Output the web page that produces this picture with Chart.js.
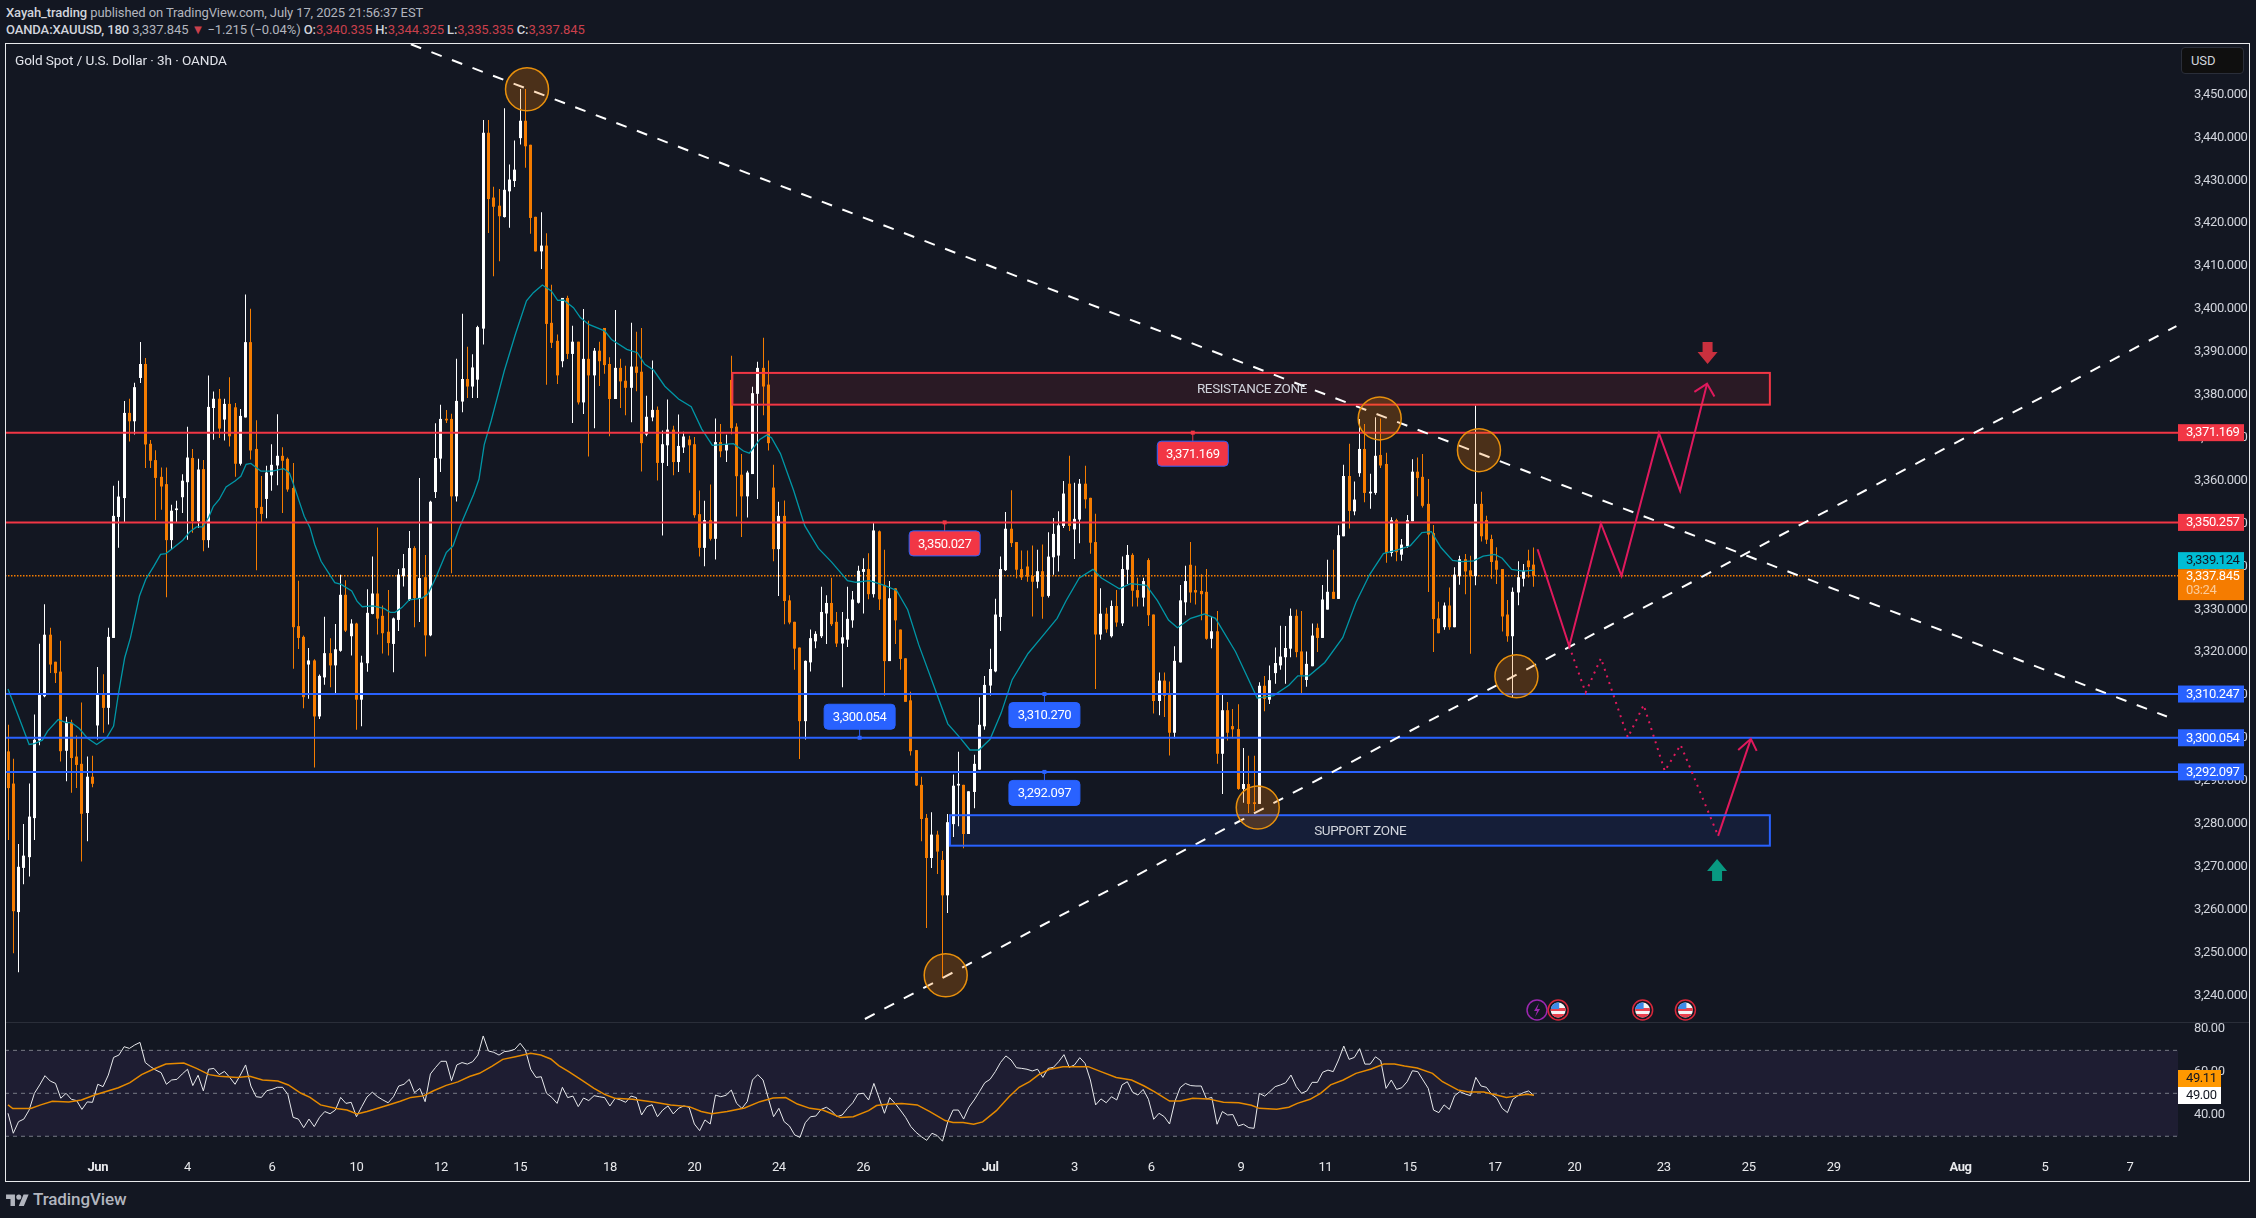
<!DOCTYPE html>
<html>
<head>
<meta charset="utf-8">
<title>Gold Spot / U.S. Dollar</title>
<script src="https://cdn.jsdelivr.net/npm/chart.js@4/dist/chart.umd.min.js"></script>
<style>
html, body { margin: 0; padding: 0; width: 2256px; height: 1218px; background: #131722; overflow: hidden; }
body { position: relative; font-family: Roboto, sans-serif; font-size: 13px; letter-spacing: -0.1px; color: #b2b5be; }
canvas { position: absolute; left: 5px; }
#priceChart { top: 43px; }
#rsiChart { top: 1022px; }
.txt { position: absolute; white-space: nowrap; line-height: 18px; }
.txt b { color: #d1d4dc; font-weight: 500; }
.red { color: #c9404c; }
#frame { position: absolute; left: 5px; top: 43px; width: 2243px; height: 1137px; border: 1.5px solid #e8e9ec; pointer-events: none; }
#sep { position: absolute; left: 6px; top: 1022px; width: 2243px; height: 1px; background: #2a2e39; }
#usd { position: absolute; left: 2181px; top: 47px; width: 63px; height: 27px; box-sizing: border-box; background: #0f0f0f; border: 1px solid #2a2e39; border-radius: 4px; color: #d1d4dc; line-height: 25px; padding-left: 9px; }
</style>
</head>
<body>
<div class="txt" style="left:6px;top:4px"><b>Xayah_trading</b> published on TradingView.com, July 17, 2025 21:56:37 EST</div>
<div class="txt" style="left:6px;top:21px"><b>OANDA:XAUUSD, 180</b> 3,337.845 <span class="red">▼</span> −1.215 (−0.04%) <b>O:</b><span class="red">3,340.335</span> <b>H:</b><span class="red">3,344.325</span> <b>L:</b><span class="red">3,335.335</span> <b>C:</b><span class="red">3,337.845</span></div>
<canvas id="priceChart" width="2245" height="979"></canvas>
<canvas id="rsiChart" width="2245" height="159"></canvas>
<div id="sep"></div>
<div id="frame"></div>
<div class="txt" style="left:15px;top:51px;font-size:13.6px;color:#e1e3ea">Gold Spot / U.S. Dollar · 3h · OANDA</div>
<div id="usd">USD</div>
<svg style="position:absolute;left:6px;top:1192px" width="23" height="14" viewBox="0 0 36 22"><path fill="#b2b5be" d="M14 22H7V11H0V4h14v18zM28 22h-8l7.5-18h8L28 22z"/><circle fill="#b2b5be" cx="20" cy="8" r="4"/></svg>
<div class="txt" style="left:33px;top:1188px;font-size:17px;line-height:22px;color:#b2b5be;font-weight:500">TradingView</div>

<script>
// candles, 3h, one row = 10 bars
var candleOpen = [
    3296.8, 3289.3, 3259.5, 3269.8, 3272.3, 3281.4, 3299.5, 3309.8, 3324, 3317.7,
    3315.4, 3297.1, 3303.5, 3295.6, 3293.9, 3282.6, 3290.9, 3303, 3310, 3307.1,
    3323.4, 3351.6, 3356, 3375.7, 3373.9, 3384, 3387.1, 3368.5, 3364.7, 3360.8,
    3359.1, 3346.2, 3353.2, 3356.2, 3359.7, 3365.2, 3350.6, 3362.6, 3346.2, 3377,
    3379, 3374.3, 3377.8, 3377, 3364, 3374.8, 3392.2, 3367.3, 3353.8, 3355.8,
    3361.3, 3363.6, 3365.7, 3365, 3358.2, 3326, 3323.5, 3317.2, 3318, 3305.1,
    3314.2, 3319.7, 3317, 3320.4, 3333.3, 3323.8, 3326.6, 3309, 3317.5, 3329,
    3333.6, 3328.4, 3324.7, 3322, 3327.6, 3337.8, 3332.3, 3344.2, 3332.7, 3337.4,
    3324, 3357.4, 3365.2, 3374.3, 3374.3, 3356.4, 3378.5, 3383.6, 3382, 3383.6,
    3395.5, 3441, 3425.9, 3424, 3421.5, 3427.5, 3429.9, 3439.9, 3443.8, 3438.2,
    3421.4, 3413.5, 3414.7, 3396.7, 3392.5, 3387.9, 3402.5, 3389.6, 3392.3, 3378.3,
    3388.3, 3384.6, 3390.2, 3395.5, 3387.1, 3379.1, 3386.2, 3383.2, 3381.7, 3386.5,
    3385.3, 3370.8, 3374.8, 3376.4, 3364.2, 3368.3, 3371.8, 3364.4, 3367.8, 3369.5,
    3368.4, 3352.1, 3344.4, 3350.7, 3346.5, 3368.9, 3367.1, 3383.4, 3372.5, 3361.3,
    3356.4, 3361.6, 3380.3, 3386.2, 3382.3, 3358.3, 3344.1, 3351.7, 3332, 3327,
    3321, 3304, 3317.7, 3322.6, 3323.8, 3329.1, 3331.4, 3327, 3322.1, 3323,
    3327.5, 3331.6, 3338.8, 3339.3, 3333.6, 3348.1, 3335.6, 3318, 3334.8, 3325.2,
    3318.5, 3308.7, 3297.1, 3289, 3281.3, 3272.1, 3277.4, 3271.5, 3263.4, 3280,
    3289, 3289, 3277.7, 3287.5, 3292.7, 3302.8, 3312.3, 3315.6, 3328.3, 3339.2,
    3348.7, 3345.6, 3339.3, 3339.9, 3337.7, 3336.5, 3338.8, 3333.2, 3342.2, 3342.6,
    3349.5, 3359.2, 3348.7, 3351, 3359.2, 3355.9, 3345.6, 3324.2, 3328.9, 3323.8,
    3330.7, 3326.8, 3339.3, 3342.6, 3334.4, 3332.8, 3341.4, 3328.7, 3308.7, 3313.3,
    3310.1, 3301.3, 3317.7, 3331.7, 3340.3, 3334.4, 3334.2, 3334, 3323.2, 3324.8,
    3296.4, 3306.4, 3302.7, 3302, 3288.2, 3289.2, 3284.9, 3284.7, 3312.1, 3309,
    3315.2, 3317, 3318.9, 3320.9, 3328.4, 3320.1, 3313.6, 3316.8, 3325.6, 3323.4,
    3330, 3334, 3332.5, 3347.1, 3361, 3352.9, 3361.8, 3367.3, 3357.1, 3357.2,
    3365.9, 3363.8, 3343.2, 3350.7, 3342.8, 3344.8, 3350.6, 3362, 3360.8, 3354.5,
    3347.7, 3327.8, 3325.9, 3330.8, 3325.9, 3337.8, 3341.6, 3339, 3337.8, 3354.5,
    3350.7, 3346.3, 3341.3, 3339.3, 3328.7, 3323.8, 3334, 3337.2, 3341.3, 3340.335,
];
var candleHigh = [
    3303, 3295.1, 3275.2, 3279.9, 3289.3, 3305.4, 3321.9, 3331.1, 3325.6, 3317.7,
    3322.6, 3304.9, 3304.2, 3300.5, 3308.2, 3295.6, 3295.8, 3316.5, 3314.8, 3325.6,
    3358.7, 3359.9, 3378.5, 3379, 3382.7, 3392.2, 3388.5, 3369.4, 3367, 3363,
    3363, 3354.3, 3355.2, 3361.4, 3372.5, 3367.3, 3365, 3364.7, 3384.4, 3380.7,
    3381.3, 3379, 3384, 3378, 3376.6, 3403.3, 3400, 3374, 3361, 3363.4,
    3368.4, 3375.4, 3367.7, 3365.3, 3364, 3336.6, 3323.8, 3320.9, 3318.3, 3314.7,
    3328.2, 3323.2, 3326.5, 3338, 3336.7, 3327.6, 3326.8, 3319.1, 3334.6, 3342.2,
    3349, 3330.8, 3334.4, 3328, 3339.3, 3342.8, 3348.2, 3344.6, 3360.5, 3342.6,
    3355.2, 3373.3, 3377.6, 3376.4, 3375.5, 3388.3, 3398.8, 3391.1, 3389.4, 3396,
    3444, 3444, 3428.4, 3427.9, 3446.7, 3433.6, 3439.2, 3451.2, 3451.2, 3438.2,
    3421.4, 3422.5, 3417.6, 3405.6, 3394, 3402.5, 3403, 3396, 3392.3, 3399.9,
    3397.2, 3390.8, 3392.3, 3395.5, 3388.7, 3399.7, 3388.3, 3386.7, 3396.7, 3394.6,
    3395.5, 3379.7, 3387.9, 3377.2, 3371.6, 3378.8, 3372.7, 3375.3, 3371.3, 3370.4,
    3370.1, 3357.6, 3355.2, 3359, 3374.4, 3373.1, 3370.6, 3389, 3373.3, 3366.1,
    3362.2, 3381.8, 3387.6, 3393.2, 3387.9, 3363.6, 3355, 3355.3, 3333.2, 3327,
    3321, 3318, 3325.2, 3324.8, 3335.2, 3333.2, 3337.3, 3329.3, 3329.3, 3335.2,
    3334.2, 3340.1, 3341.8, 3343, 3350.2, 3348.3, 3343.8, 3336.5, 3334.8, 3325.2,
    3318.5, 3310.7, 3297.1, 3290.9, 3282.2, 3282.6, 3278.3, 3273.6, 3282.2, 3291.4,
    3296.7, 3289, 3287.5, 3296, 3309.4, 3314.4, 3320.7, 3332.4, 3342.2, 3352.6,
    3357.7, 3345.6, 3343.6, 3343.6, 3344.8, 3343.8, 3345, 3347.9, 3351.2, 3352.8,
    3359.8, 3365.7, 3359.4, 3360.3, 3363.4, 3355.9, 3352.2, 3334.8, 3330.3, 3332,
    3334.4, 3342.2, 3344.9, 3343, 3337.3, 3337.3, 3341.8, 3328.7, 3315.2, 3315.2,
    3313.1, 3321.3, 3335.6, 3340.1, 3345.6, 3340.1, 3338.1, 3339.3, 3328.3, 3329.5,
    3310.1, 3308.3, 3306.7, 3307.8, 3297.6, 3295.8, 3295.8, 3312.9, 3314.4, 3316.8,
    3321, 3326.1, 3326, 3330.1, 3329.9, 3329.5, 3320.1, 3326.6, 3326.6, 3335.6,
    3341.5, 3343.8, 3349.5, 3363.6, 3368.5, 3359.7, 3374.3, 3373.1, 3361.5, 3374.7,
    3374.4, 3366.4, 3351.4, 3351, 3346.3, 3351.9, 3364.9, 3365.3, 3366.1, 3360.3,
    3349.6, 3331.7, 3331.5, 3335, 3339.7, 3342.4, 3342.8, 3342.4, 3377.4, 3357.3,
    3351.7, 3347.3, 3344.4, 3339.3, 3332.1, 3335, 3341.1, 3340.5, 3343.8, 3344.325,
];
var candleLow = [
    3276.3, 3249.9, 3245.5, 3266, 3267.8, 3276.3, 3298.4, 3309.6, 3315.2, 3312.9,
    3294.6, 3290, 3287.3, 3288.4, 3271.3, 3276, 3288.6, 3299.7, 3301.3, 3303.2,
    3323.4, 3344.4, 3350.2, 3369.2, 3370.8, 3382.8, 3363, 3363, 3350.9, 3353.3,
    3332.9, 3344, 3350.4, 3352.5, 3346.3, 3347.9, 3349, 3343.6, 3344.4, 3369.6,
    3370, 3369.4, 3368, 3361, 3363.6, 3374.8, 3365, 3339.2, 3350.4, 3351.3,
    3357.7, 3359, 3352.5, 3357.5, 3316.2, 3320.8, 3307, 3309.2, 3293.2, 3304.5,
    3312.5, 3311.9, 3310.5, 3320.2, 3324.8, 3319.3, 3302, 3302.8, 3315.5, 3328.9,
    3324.2, 3319.8, 3319.3, 3315.4, 3325, 3335.4, 3332, 3325.9, 3327.1, 3319.1,
    3323.8, 3356, 3362.1, 3373.5, 3338.5, 3355.2, 3376, 3379.3, 3379.3, 3379.3,
    3391.8, 3417.8, 3407.7, 3411.2, 3421.4, 3419, 3428.5, 3438.4, 3433, 3417.6,
    3413.5, 3409.4, 3382.4, 3391, 3382.6, 3386.5, 3388.4, 3373.5, 3377.8, 3375.6,
    3365.7, 3372.3, 3382.1, 3385, 3370.4, 3379.1, 3377, 3375.3, 3373.7, 3380.9,
    3362.2, 3370.4, 3373.9, 3360.1, 3347.3, 3363.5, 3361.3, 3362.1, 3366.5, 3361.9,
    3351.4, 3342.4, 3340.1, 3346.1, 3341.7, 3365.5, 3364.4, 3370.9, 3351.7, 3346.9,
    3351.5, 3361.6, 3355.8, 3375.3, 3367.1, 3341.3, 3333.2, 3326.6, 3326.6, 3316,
    3295.2, 3299.7, 3315.6, 3321, 3323.4, 3322, 3326.2, 3321.3, 3311.9, 3321.3,
    3325.8, 3331.4, 3329.1, 3332.4, 3332.8, 3329.9, 3309.9, 3318, 3322, 3316,
    3308.5, 3296, 3288.9, 3276, 3255.8, 3269.8, 3268.4, 3244.1, 3259.3, 3277,
    3279.5, 3274.4, 3277.7, 3283.7, 3292.7, 3302, 3310, 3315.4, 3325, 3339,
    3344.6, 3337.3, 3336.9, 3336.5, 3328.4, 3335, 3327.9, 3332.8, 3338.1, 3338.9,
    3349, 3348.3, 3341.8, 3345.5, 3353.6, 3343, 3311.5, 3323, 3324.6, 3323.5,
    3326, 3326.2, 3336, 3330.7, 3330.7, 3330.7, 3326.2, 3305.8, 3305.4, 3305,
    3296, 3300, 3317.7, 3328.7, 3331.6, 3331.2, 3327.5, 3323, 3321, 3294.1,
    3287, 3299.5, 3300, 3288, 3285, 3282.6, 3283, 3284.7, 3306.3, 3308,
    3312.7, 3316, 3312.7, 3318.9, 3318.9, 3310.1, 3312, 3316.8, 3320.1, 3323.4,
    3330, 3332.5, 3332.5, 3347.1, 3348.9, 3352, 3361, 3355, 3353.5, 3356.8,
    3363, 3340.9, 3342.4, 3341.3, 3341.4, 3344.4, 3350.6, 3356.4, 3353.8, 3334.1,
    3320.1, 3324.5, 3325.3, 3325.3, 3325.9, 3335.8, 3333.6, 3319.7, 3335.7, 3345.9,
    3345.3, 3337.2, 3336, 3324.9, 3322.5, 3309.4, 3331, 3335.4, 3337.5, 3335.335,
];
var candleClose = [
    3288.4, 3259.7, 3269.9, 3272.5, 3281.6, 3299.5, 3310.2, 3324, 3317.2, 3315.2,
    3297, 3303.7, 3295.4, 3293.8, 3282.4, 3290.9, 3289.4, 3310, 3307.1, 3323.5,
    3351.7, 3356.2, 3375.7, 3373.9, 3381.7, 3387.1, 3368.5, 3364.7, 3360.7, 3358.7,
    3346.2, 3352.9, 3353.2, 3359.9, 3365.3, 3350.6, 3362.5, 3346.2, 3377.1, 3379,
    3372.2, 3377.8, 3370.4, 3364, 3375, 3392.2, 3367.1, 3353.7, 3352.3, 3361.8,
    3363.6, 3365.7, 3364.7, 3358, 3325.9, 3323.4, 3309.6, 3318, 3305.1, 3314.4,
    3319.7, 3317, 3320.6, 3333.3, 3325.1, 3326.6, 3309, 3317.5, 3329.1, 3333.6,
    3327.9, 3324.5, 3322.2, 3327.8, 3338, 3339.5, 3344.2, 3332.7, 3337.2, 3324,
    3355, 3365.2, 3374.3, 3374.1, 3356.4, 3378.5, 3383.6, 3382, 3386.3, 3395.7,
    3441, 3425.7, 3423.9, 3421.7, 3427.7, 3430.1, 3432.4, 3443.8, 3438, 3421.3,
    3413.5, 3414.7, 3396.6, 3392.2, 3384.6, 3402.5, 3389.6, 3392.3, 3378.3, 3388.3,
    3384.6, 3390.2, 3387.9, 3387, 3379.1, 3386.2, 3383.2, 3381.7, 3386.5, 3385.2,
    3368.8, 3374.8, 3376.4, 3364.2, 3368.4, 3371.8, 3364.4, 3368, 3370.2, 3368.3,
    3352, 3344.4, 3350.7, 3346.5, 3368.9, 3366.9, 3368.4, 3372.3, 3361.1, 3356.4,
    3361.8, 3380.3, 3386.2, 3382, 3368.8, 3344.1, 3351.7, 3332, 3327, 3320.9,
    3304, 3317.9, 3323.2, 3324.2, 3329.3, 3331.4, 3326.6, 3322.1, 3323.4, 3327.7,
    3332.2, 3338.9, 3339.3, 3333.6, 3348.3, 3332.4, 3318, 3332.5, 3327.5, 3318.5,
    3308.5, 3297, 3289, 3281.2, 3272.1, 3277.4, 3273.6, 3263.4, 3280.3, 3288.8,
    3289, 3277.7, 3287.5, 3293.9, 3303, 3312.3, 3316, 3328.7, 3339.3, 3348.7,
    3345.5, 3339.3, 3337.5, 3337.7, 3336.5, 3338.8, 3333, 3342.2, 3347.5, 3349.5,
    3356.9, 3349.5, 3351, 3359.2, 3355.7, 3345.6, 3324.2, 3328.9, 3325.4, 3330.7,
    3327, 3339.3, 3342.6, 3334.4, 3332.8, 3336.5, 3328.7, 3308.7, 3313.3, 3309.9,
    3301.3, 3317.9, 3332, 3336.5, 3334, 3334, 3333.6, 3323.2, 3324.8, 3296.4,
    3306.4, 3301.3, 3302.1, 3288.2, 3289.2, 3284.7, 3284.7, 3312.1, 3309.2, 3313.4,
    3317.4, 3318.9, 3320.9, 3328.4, 3320.1, 3314.8, 3317.2, 3323.8, 3323.4, 3332.2,
    3334, 3332.5, 3347.2, 3361, 3353, 3355.5, 3367.3, 3357.2, 3357.3, 3365.7,
    3363.6, 3343.2, 3350.7, 3343.4, 3345, 3350.7, 3362, 3360.7, 3354.2, 3347.5,
    3327.8, 3324.5, 3330.8, 3325.9, 3338, 3341.6, 3338.9, 3337.8, 3354.5, 3347.1,
    3346.3, 3341.1, 3339.3, 3328.4, 3323.8, 3334, 3337.4, 3338.9, 3339.9, 3337.845,
];

// teal moving average, bar number and price
var emaBar = [0, 2, 4, 5, 6.5, 7.5, 9.5, 11, 12, 13.5, 15, 16.8, 18.7, 20, 20.9, 22.1, 23.2, 24.9, 26.1, 27.6, 28.9, 29.9, 31.4, 33.1, 34.4, 35.7, 36.9, 38, 38.9, 40, 41.3, 43, 44.1, 45.1, 46, 47.9, 50, 52.2, 53.3, 54.3, 56.1, 57.2, 58.1, 59.3, 61.9, 63.1, 65.1, 66.1, 67.1, 69.1, 71.2, 72.4, 73.3, 74.6, 76, 78.4, 79.5, 80.9, 83, 84.3, 85.5, 88.2, 89.2, 90.2, 91.5, 92.5, 94, 96.1, 98.2, 99.5, 101.2, 102.9, 104.1, 105.2, 107.1, 108.4, 110, 113, 114.3, 117.2, 119.2, 120.6, 122.3, 124.4, 127, 129.4, 131.4, 133.4, 137.4, 139.3, 140.4, 142.4, 143.7, 144.6, 146.3, 148.8, 150.9, 153.5, 156, 159, 160.6, 163.2, 166.1, 168.3, 170.4, 172.5, 175.9, 178, 180.3, 182.2, 183.9, 186, 188.1, 190.2, 193.2, 195.7, 198.7, 200.4, 202.9, 205.5, 207.1, 210.5, 212.6, 215.6, 217.7, 219.8, 221.5, 224, 226.6, 228.7, 232.5, 236.6, 239.7, 242.6, 244.3, 246.4, 249.4, 252.8, 255.3, 257.9, 260.5, 263, 265.6, 267.8, 269.6, 271.4, 273.6, 275.4, 277.6, 279.4, 281.6, 283, 284.8, 287, 289];
var emaPrice = [3311.4, 3305, 3298.5, 3298.7, 3299.5, 3301.6, 3304.3, 3303.6, 3303.6, 3302.2, 3300, 3298.5, 3300.1, 3302.8, 3310.2, 3318.7, 3323.4, 3333.1, 3337, 3340, 3342.8, 3343, 3344.4, 3346.1, 3348, 3349.2, 3349.2, 3351.4, 3354, 3355.6, 3358.5, 3359.9, 3361, 3363.8, 3364, 3362.2, 3362.2, 3362.8, 3361.8, 3358.3, 3351.7, 3349, 3345.1, 3341.2, 3336.2, 3335.8, 3334.3, 3331.9, 3330.6, 3330.8, 3330.2, 3329.3, 3329.3, 3330.4, 3332.2, 3332.6, 3333.5, 3337, 3343.2, 3344.8, 3349, 3356.8, 3360.3, 3368.4, 3373.9, 3378.6, 3385.6, 3394.1, 3401.9, 3403.8, 3405.6, 3404.2, 3402, 3402.1, 3400.3, 3398, 3396.4, 3394.9, 3392.9, 3390.6, 3389.8, 3387.1, 3385.7, 3382, 3379, 3377.2, 3372, 3368.2, 3368.6, 3366.9, 3366.4, 3369.6, 3370.6, 3370, 3366.3, 3357.7, 3349.5, 3344.2, 3341, 3336.7, 3336.3, 3336.7, 3335.5, 3334.4, 3329.9, 3321.7, 3310.3, 3303.3, 3300.1, 3297.2, 3297.2, 3299.7, 3305.8, 3313.6, 3319.7, 3323.4, 3327.9, 3332, 3337.3, 3339.3, 3337.3, 3334.8, 3336, 3335.6, 3332, 3327.5, 3325.7, 3327.9, 3328.9, 3327.9, 3320.1, 3309.3, 3309.9, 3312.3, 3314.5, 3314.5, 3317.6, 3323.4, 3331.6, 3338.1, 3343, 3343.8, 3344.8, 3347.9, 3348.1, 3344.4, 3341.4, 3341.1, 3341.3, 3342.4, 3342.8, 3341.9, 3339.3, 3338.9, 3339.124];

// RSI, one value per bar
var rsiValues = [
    40.7, 31.4, 36.8, 38, 42.2, 50, 53.9, 58.2, 55.7, 54.6,
    47.7, 50, 47.2, 46.6, 42.5, 46, 45.8, 54.2, 53.1, 58.5,
    66.7, 67.8, 71.7, 70.9, 72.5, 73.7, 64.3, 62.4, 60.8, 59.6,
    54.2, 56.2, 56.5, 59, 61.2, 53.6, 58.4, 51.1, 61.2, 61.6,
    58.7, 60.2, 57.4, 54.2, 58.5, 63.2, 53.4, 48.4, 48.1, 51.2,
    51.8, 52.8, 52.8, 49.5, 38.8, 38, 34, 38, 34.5, 38.8,
    41.5, 40.5, 42.2, 48.1, 45.3, 45.8, 39.1, 43.8, 48.3, 50.5,
    48.4, 46.9, 45.6, 48.4, 53.4, 54.2, 56.5, 50.3, 52.3, 46.1,
    59, 62.1, 64.9, 64.9, 55.9, 63.2, 64.3, 63.6, 64.7, 67.8,
    76.7, 69.7, 69.1, 67.8, 69.4, 69.7, 70.5, 73.3, 70.1, 61.2,
    57.4, 57.7, 50, 48.1, 45.3, 52.8, 48, 48.7, 43.8, 47.8,
    46.6, 48.9, 48.4, 48, 44.1, 47.7, 46.9, 45.8, 48.7, 48,
    39.9, 43.8, 44.7, 39.1, 42.2, 44.1, 40.4, 43, 44.1, 43.5,
    35.7, 32.6, 37.6, 35.7, 49.2, 48.4, 49.1, 51.5, 45.3, 43,
    46.1, 56.2, 58.7, 56.2, 47.7, 39.1, 43, 36.8, 34.8, 30.6,
    29.5, 36.3, 39.1, 39.4, 42.5, 43.5, 41.8, 39.1, 39.9, 43,
    45.6, 49.7, 50, 46.9, 54.6, 47.7, 40.7, 48, 45.3, 42.2,
    38.8, 34.5, 31.8, 29.8, 28.1, 31.4, 30.3, 27.7, 36.8, 42.2,
    42.2, 38, 43.5, 46.9, 50.8, 54.9, 56.5, 60.1, 64.4, 67.4,
    65.5, 61.9, 61.6, 61.2, 60.4, 61.2, 57.4, 61.6, 62.1, 64.7,
    68, 62.1, 63.2, 66.6, 63.9, 56.2, 44.6, 47.4, 45.6, 48.4,
    46.9, 53.9, 55.4, 50.5, 49.2, 51.8, 47.2, 37.9, 40.7, 39.1,
    35.7, 46.1, 52.6, 54.6, 53.6, 53.4, 53.4, 47.4, 48.1, 35.6,
    41.5, 39.9, 40.1, 34.8, 35.6, 34, 33.7, 50, 48.7, 50.8,
    53.1, 53.9, 54.9, 58.5, 53.1, 50, 51.1, 55.1, 55.1, 59.8,
    60.8, 60.1, 65.5, 72, 65.8, 66.7, 70.8, 63.6, 63.6, 67,
    65.2, 52.3, 56.2, 51.8, 52.6, 55.4, 60.5, 60.1, 56.2, 52.3,
    42.2, 41, 44.6, 42.5, 48.9, 50.8, 49.7, 48.9, 57.4, 53.4,
    52.8, 49.5, 47.7, 43, 41, 47.2, 48.9, 50.3, 51.1, 49,
];
var rsiMaBar = [0, 0.9, 4.3, 6.2, 8.4, 11.5, 13.9, 16.4, 20.9, 23.1, 25.3, 27.5, 29.9, 33.3, 35.7, 38.1, 40, 43.4, 45.8, 48.2, 51.1, 53.1, 55.5, 57.2, 59.2, 62.2, 64.2, 66.1, 68, 71.9, 74.3, 76.3, 78.7, 80.6, 83, 85.2, 87.4, 89.3, 91.7, 93.7, 96.1, 99, 100.9, 102.8, 104.3, 106.2, 108.6, 111, 113, 114.9, 118.3, 122.2, 125.5, 129, 131.3, 133.3, 136.2, 139.5, 142.4, 144.9, 147.3, 149.5, 151.9, 154.3, 155.8, 157.7, 160.1, 163, 164.5, 166.9, 169.3, 172.2, 174.6, 177.5, 179, 180.9, 182.9, 184.6, 187.2, 189.6, 191.5, 193.5, 195.4, 197.3, 199.8, 204.6, 207, 209.9, 212.8, 215.2, 217.1, 220, 222, 224.4, 227.3, 230.2, 233.1, 235.5, 237, 240.3, 242.6, 244.2, 246.6, 248.6, 250.5, 252.9, 255.3, 258.2, 260.6, 262.6, 264.5, 266.9, 269.8, 271.7, 274.6, 276.6, 279.5, 281.9, 283.8, 285.7, 287.7, 289];
var rsiMaValues = [44.6, 42.9, 42.9, 44.6, 46.3, 46, 46.9, 49.2, 52.6, 55, 58.7, 61.2, 63.6, 64.1, 61.6, 58.7, 57.9, 57.4, 57.9, 56.2, 55.7, 53.9, 50, 48.1, 44.6, 42.9, 42.2, 40.4, 41.5, 44.4, 46.3, 48.1, 48.8, 51.2, 53.7, 55.3, 57.8, 59.3, 62.7, 65.8, 67, 68.6, 67.8, 66, 62.9, 60.1, 56.2, 52.3, 49.5, 47.7, 47.2, 46, 44.6, 43.8, 41.5, 40.5, 41.5, 43.2, 46.1, 47.8, 48, 45, 43, 42.2, 40.7, 38.7, 39.1, 41.9, 44.3, 45, 45.3, 44.6, 41.5, 37.3, 36.4, 36.4, 35.6, 36.7, 41.9, 48.4, 52.8, 55.4, 59, 61.2, 62.4, 62.4, 60.1, 57.4, 56.2, 53.4, 50.8, 46.4, 46.4, 47.7, 47.4, 45.8, 45.6, 44.4, 43, 42.6, 43.5, 45.3, 47.2, 50, 53.9, 56.2, 59.3, 61.3, 63.6, 63.6, 62.7, 61.8, 59.3, 55.4, 51.6, 50.6, 50.6, 49.2, 48.1, 48.8, 49.5, 49.11];

// axes
var priceTicks = [3240, 3250, 3260, 3270, 3280, 3290, 3300, 3310, 3320, 3330, 3340, 3350, 3360, 3370, 3380, 3390, 3400, 3410, 3420, 3430, 3440, 3450];
var rsiTicks = [40, 60, 80];
var timeTickBars = [17, 34, 50, 66, 82, 97, 114, 130, 146, 162, 186, 202, 216.5, 233.5, 249.5, 265.5, 281.6, 296.7, 313.6, 329.7, 345.8, 369.8, 385.8, 401.9];
var timeTickLabels = ["Jun", "4", "6", "10", "12", "15", "18", "20", "24", "26", "Jul", "3", "6", "9", "11", "15", "17", "20", "23", "25", "29", "Aug", "5", "7"];

// key levels
var resistanceLevels = [3371.169, 3350.257];
var supportLevels = [3310.247, 3300.054, 3292.097];
var lastPrice = 3337.845;
var lastEma = 3339.124;

// trend lines
var downTrendBars = [76.3, 408.9];
var downTrendPrices = [3461.7, 3305];
var upTrendBars = [162.3, 410.7];
var upTrendPrices = [3234.5, 3396];

// forecast paths
var pathUpBars = [289.7, 295.7, 301.7, 305.6, 312.7, 316.7, 321.8];
var pathUpPrices = [3344, 3321.4, 3350, 3337.8, 3371, 3357.6, 3382.6];
var pathUpHeadBars = [319.4, 321.8, 323.2];
var pathUpHeadPrices = [3380.7, 3382.6, 3379.6];
var pathDotBars = [295.7, 298.8, 301.7, 306.8, 309.8, 313.8, 316.8, 323.9];
var pathDotPrices = [3321.4, 3310.6, 3318.6, 3300.1, 3307.7, 3292.3, 3298.4, 3277.2];
var pathEndBars = [323.9, 330.1];
var pathEndPrices = [3277.2, 3299.8];
var pathEndHeadBars = [327.7, 330.1, 331.2];
var pathEndHeadPrices = [3297.2, 3299.8, 3297];

// circles around the swing points
var circleBars = [98.3, 259.8, 278.6, 285.7, 236.7, 177.6];
var circlePrices = [3451.2, 3374.5, 3367.1, 3314.4, 3283.8, 3244.7];

// events row at the bottom of the price pane
var eventBars = [293.6, 309.6, 317.7];
var flashBar = 289.6;
var eventRowPrice = 3236.6;

var xMin = -0.57, xMax = 411;
var priceMin = 3233.8, priceMax = 3462;
var rsiMin = 23.6, rsiMax = 83.2;

var FONT = "Roboto, sans-serif";
var LABEL = "13px " + FONT;
var RED = "#f23645", BLUE = "#2962ff", ORANGE = "#f57c00", PINK = "#e0195d";
Chart.defaults.font.family = FONT;
Chart.defaults.font.size = 13;
Chart.defaults.color = "#d1d4dc";

var bars = candleOpen.map(function (v, i) { return i; });

function lineSet(xs, ys, color, width, dash, order) {
    return {
        type: "line",
        data: xs.map(function (x, i) { return { x: x, y: ys[i] }; }),
        borderColor: color,
        borderWidth: width,
        borderDash: dash || [],
        pointRadius: 0,
        tension: 0,
        order: order,
    };
}
function levelSet(price, color, width, dash, order) {
    return lineSet([xMin, xMax], [price, price], color, width, dash, order);
}
function money(v, d) {
    return v.toLocaleString("en-US", { minimumFractionDigits: d, maximumFractionDigits: d });
}
function rrect(c, x, y, w, h, r) {
    c.beginPath();
    c.roundRect(x, y, w, h, r);
}
function text(c, str, x, y, color, font, align) {
    c.fillStyle = color;
    c.font = font;
    c.textAlign = align || "left";
    c.textBaseline = "middle";
    c.fillText(str, x, y);
}
// no chart padding, the panes fill their canvas edge to edge
function noPadding(s) {
    s.paddingTop = 0;
    s.paddingBottom = 0;
    s.paddingLeft = 0;
    s.paddingRight = 0;
}

// zones, circles, callouts, price tags
var zones = [
    { a: 137.2, b: 333.7, top: 3385.1, bottom: 3377.7, stroke: RED, fill: "rgba(242,54,69,0.1)", label: "RESISTANCE ZONE", at: 235.6 },
    { a: 178.4, b: 333.7, top: 3282, bottom: 3274.9, stroke: BLUE, fill: "rgba(41,98,255,0.1)", label: "SUPPORT ZONE", at: 256.1 },
];
var callouts = [
    { label: "3,371.169", bar: 224.4, price: 3371.169, color: RED, down: true },
    { label: "3,350.027", bar: 177.4, price: 3350.257, color: RED, down: true },
    { label: "3,300.054", bar: 161.3, price: 3300.054, color: BLUE, down: false },
    { label: "3,310.270", bar: 196.3, price: 3310.247, color: BLUE, down: true },
    { label: "3,292.097", bar: 196.3, price: 3292.097, color: BLUE, down: true },
];

function drawFlag(c, x, y) {
    c.save();
    c.beginPath();
    c.arc(x, y, 10, 0, Math.PI * 2);
    c.fillStyle = "#131722";
    c.fill();
    c.lineWidth = 1.5;
    c.strokeStyle = "#d8273a";
    c.stroke();
    c.beginPath();
    c.arc(x, y, 7.5, 0, Math.PI * 2);
    c.clip();
    c.fillStyle = "#f5f5f5";
    c.fillRect(x - 8, y - 8, 16, 16);
    c.fillStyle = "#e8424f";
    c.fillRect(x - 8, y - 2, 16, 3);
    c.fillRect(x - 8, y + 4, 16, 4);
    c.fillStyle = "#3d8be8";
    c.fillRect(x - 8, y - 8, 9, 7);
    c.restore();
}

var drawingsPlugin = {
    id: "drawings",
    beforeDatasetsDraw: function (chart) {
        var c = chart.ctx, sx = chart.scales.x, sy = chart.scales.y;
        zones.forEach(function (z) {
            c.fillStyle = z.fill;
            c.fillRect(sx.getPixelForValue(z.a), sy.getPixelForValue(z.top), sx.getPixelForValue(z.b) - sx.getPixelForValue(z.a), sy.getPixelForValue(z.bottom) - sy.getPixelForValue(z.top));
        });
    },
    afterDatasetsDraw: function (chart) {
        var c = chart.ctx, sx = chart.scales.x, sy = chart.scales.y;
        zones.forEach(function (z) {
            var x = sx.getPixelForValue(z.a), y = sy.getPixelForValue(z.top);
            var w = sx.getPixelForValue(z.b) - x, h = sy.getPixelForValue(z.bottom) - y;
            c.strokeStyle = z.stroke;
            c.lineWidth = 2;
            c.strokeRect(x, y, w, h);
            text(c, z.label, sx.getPixelForValue(z.at), y + h / 2 + 1, "#d1d4dc", "13.5px " + FONT, "center");
        });

        circleBars.forEach(function (b, i) {
            c.beginPath();
            c.arc(sx.getPixelForValue(b), sy.getPixelForValue(circlePrices[i]), 21.5, 0, Math.PI * 2);
            c.fillStyle = "rgba(245,124,0,0.25)";
            c.fill();
            c.lineWidth = 1.5;
            c.strokeStyle = "#e8900c";
            c.stroke();
        });

        callouts.forEach(function (t) {
            var x = sx.getPixelForValue(t.bar), y = sy.getPixelForValue(t.price);
            var cy = t.down ? y + 21 : y - 21;
            c.strokeStyle = t.color;
            c.lineWidth = 1;
            c.beginPath();
            c.moveTo(x, y);
            c.lineTo(x, cy);
            c.stroke();
            c.fillStyle = t.color;
            c.fillRect(x - 2, y - 2, 4, 4);
            rrect(c, x - 35.5, cy - 12.5, 71, 25, 4);
            c.fillStyle = t.color;
            c.fill();
            c.strokeStyle = BLUE;
            c.stroke();
            text(c, t.label, x, cy + 1, "#ffffff", LABEL, "center");
        });

        // big arrows over the zones
        [[321.9, 3387.2, "#c9303e", -1], [323.7, 3271.8, "#089981", 1]].forEach(function (a) {
            var x = sx.getPixelForValue(a[0]), y = sy.getPixelForValue(a[1]), d = a[3];
            c.fillStyle = a[2];
            c.beginPath();
            c.moveTo(x, y);
            c.lineTo(x + 10, y + d * 12);
            c.lineTo(x + 5, y + d * 12);
            c.lineTo(x + 5, y + d * 22);
            c.lineTo(x - 5, y + d * 22);
            c.lineTo(x - 5, y + d * 12);
            c.lineTo(x - 10, y + d * 12);
            c.closePath();
            c.fill();
        });

        // economic events
        var fx = sx.getPixelForValue(flashBar), ey = sy.getPixelForValue(eventRowPrice);
        c.beginPath();
        c.arc(fx, ey, 10, 0, Math.PI * 2);
        c.lineWidth = 1.5;
        c.strokeStyle = "#9c27b0";
        c.stroke();
        c.fillStyle = "#9c27b0";
        c.beginPath();
        c.moveTo(fx + 2, ey - 7);
        c.lineTo(fx - 3, ey + 1);
        c.lineTo(fx, ey + 1);
        c.lineTo(fx - 2, ey + 7);
        c.lineTo(fx + 3, ey - 1);
        c.lineTo(fx, ey - 1);
        c.closePath();
        c.fill();
        eventBars.forEach(function (b) { drawFlag(c, sx.getPixelForValue(b), ey); });
    },
    afterDraw: function (chart) {
        var c = chart.ctx, sy = chart.scales.y, left = chart.chartArea.right;
        function tag(price, bg, color) {
            var y = sy.getPixelForValue(price);
            c.fillStyle = bg;
            c.fillRect(left, y - 8.5, 66, 17);
            text(c, money(price, 3), left + 8, y + 0.5, color, LABEL);
        }
        resistanceLevels.forEach(function (p) { tag(p, RED, "#ffffff"); });
        supportLevels.forEach(function (p) { tag(p, BLUE, "#ffffff"); });

        var top = sy.getPixelForValue(lastPrice) - 6.5;
        c.fillStyle = "#00bcd4";
        c.fillRect(left, top - 17, 66, 17);
        text(c, money(lastEma, 3), left + 8, top - 8, "#131722", LABEL);
        c.fillStyle = ORANGE;
        c.fillRect(left, top, 66, 31);
        text(c, money(lastPrice, 3), left + 8, top + 8, "#ffffff", LABEL);
        text(c, "03:24", left + 8, top + 22, "rgba(255,255,255,0.6)", LABEL);
    },
};

var rsiPlugin = {
    id: "rsiBand",
    beforeDatasetsDraw: function (chart) {
        var c = chart.ctx, a = chart.chartArea, sy = chart.scales.y;
        var top = sy.getPixelForValue(70), bottom = sy.getPixelForValue(30);
        c.fillStyle = "rgba(126,87,194,0.1)";
        c.fillRect(a.left, top, a.right - a.left, bottom - top);
    },
    afterDraw: function (chart) {
        var c = chart.ctx, left = chart.chartArea.right;
        c.fillStyle = "#ff9800";
        c.fillRect(left, 48, 43, 17);
        text(c, "49.11", left + 8, 57, "#131722", LABEL);
        c.fillStyle = "#ffffff";
        c.fillRect(left, 65, 43, 17);
        text(c, "49.00", left + 8, 74, "#131722", LABEL);
    },
};

// tighter labels, same width as the reference's axis text
var spacingPlugin = {
    id: "spacing",
    beforeDraw: function (chart) { chart.ctx.letterSpacing = "-0.4px"; },
};

var priceDatasets = [
    {
        label: "wick",
        data: bars.map(function (i) { return { x: i, y: [candleLow[i], candleHigh[i]] }; }),
        backgroundColor: bars.map(function (i) { return candleClose[i] >= candleOpen[i] ? "#ffffff" : ORANGE; }),
        barThickness: 1,
        grouped: false,
        order: 8,
    },
    {
        label: "body",
        data: bars.map(function (i) { return { x: i, y: [candleOpen[i], candleClose[i]] }; }),
        backgroundColor: bars.map(function (i) { return candleClose[i] >= candleOpen[i] ? "#ffffff" : ORANGE; }),
        barThickness: 3,
        minBarLength: 1,
        grouped: false,
        order: 7,
    },
    levelSet(lastPrice, ORANGE, 1.5, [1.5, 1.5], 9),
    lineSet(emaBar, emaPrice, "#0097a7", 1.3, null, 6),
];
resistanceLevels.forEach(function (p) { priceDatasets.push(levelSet(p, RED, 2, null, 5)); });
supportLevels.forEach(function (p) { priceDatasets.push(levelSet(p, BLUE, 2, null, 5)); });
priceDatasets.push(lineSet(downTrendBars, downTrendPrices, "#ffffff", 2, [11, 11], 4));
priceDatasets.push(lineSet(upTrendBars, upTrendPrices, "#ffffff", 2, [11, 11], 4));
priceDatasets.push(lineSet(pathUpBars, pathUpPrices, PINK, 2, null, 3));
priceDatasets.push(lineSet(pathUpHeadBars, pathUpHeadPrices, PINK, 2, null, 3));
priceDatasets.push(lineSet(pathDotBars, pathDotPrices, PINK, 2, [2, 5], 3));
priceDatasets.push(lineSet(pathEndBars, pathEndPrices, PINK, 2, null, 3));
priceDatasets.push(lineSet(pathEndHeadBars, pathEndHeadPrices, PINK, 2, null, 3));

var ctx = document.getElementById("priceChart").getContext("2d");

// snap candle bars to whole pixels so wicks stay 1px sharp
var plainRect = ctx.rect;
ctx.rect = function (x, y, w, h) {
    if (w > 5) return plainRect.call(ctx, x, y, w, h);
    var mid = Math.round(x + w / 2 - 0.5);
    if (w > 2) return plainRect.call(ctx, mid - 1, y, 3, h);
    return plainRect.call(ctx, mid, y, 1, h);
};

var priceChart = new Chart(ctx, {
    type: "bar",
    data: { datasets: priceDatasets },
    plugins: [spacingPlugin, drawingsPlugin],
    options: {
        responsive: false,
        animation: false,
        devicePixelRatio: 1,
        layout: { padding: 0 },
        plugins: { legend: { display: false }, tooltip: { enabled: false } },
        scales: {
            x: { type: "linear", display: false, offset: false, min: xMin, max: xMax, grid: { display: false }, afterFit: noPadding },
            y: {
                position: "right",
                min: priceMin,
                max: priceMax,
                grid: { display: false },
                border: { display: false },
                afterFit: function (s) { s.width = 72; noPadding(s); },
                afterBuildTicks: function (s) { s.ticks = priceTicks.map(function (v) { return { value: v }; }); },
                ticks: {
                    padding: 8,
                    autoSkip: false,
                    color: "#d1d4dc",
                    callback: function (v) { return money(v, 3); },
                },
            },
        },
    },
});

// rsi pane
var ctx2 = document.getElementById("rsiChart").getContext("2d");
var rsiChart = new Chart(ctx2, {
    type: "line",
    data: {
        datasets: [
            lineSet([xMin, xMax], [70, 70], "#787b86", 1, [4, 4], 5),
            lineSet([xMin, xMax], [50, 50], "#787b86", 1, [4, 4], 5),
            lineSet([xMin, xMax], [30, 30], "#787b86", 1, [4, 4], 5),
            lineSet(bars, rsiValues, "#e8e9ec", 1, null, 2),
            lineSet(rsiMaBar, rsiMaValues, "#e68a00", 1.5, null, 1),
        ],
    },
    plugins: [spacingPlugin, rsiPlugin],
    options: {
        responsive: false,
        animation: false,
        devicePixelRatio: 1,
        layout: { padding: 0 },
        plugins: { legend: { display: false }, tooltip: { enabled: false } },
        scales: {
            x: {
                type: "linear",
                min: xMin,
                max: xMax,
                grid: { display: false },
                border: { display: false },
                afterFit: function (s) { s.height = 31; noPadding(s); },
                afterBuildTicks: function (s) { s.ticks = timeTickBars.map(function (v) { return { value: v }; }); },
                ticks: {
                    padding: 2,
                    autoSkip: false,
                    maxRotation: 0,
                    color: "#e8e9ec",
                    font: function (c) {
                        var name = timeTickLabels[c.index];
                        return { weight: name === "Jun" || name === "Jul" || name === "Aug" ? "bold" : "normal" };
                    },
                    callback: function (v) { return timeTickLabels[timeTickBars.indexOf(v)]; },
                },
            },
            y: {
                position: "right",
                min: rsiMin,
                max: rsiMax,
                grid: { display: false },
                border: { display: false },
                afterFit: function (s) { s.width = 72; noPadding(s); },
                afterBuildTicks: function (s) { s.ticks = rsiTicks.map(function (v) { return { value: v }; }); },
                ticks: {
                    padding: 8,
                    autoSkip: false,
                    color: "#d1d4dc",
                    callback: function (v) { return money(v, 2); },
                },
            },
        },
    },
});
</script>
</body>
</html>
